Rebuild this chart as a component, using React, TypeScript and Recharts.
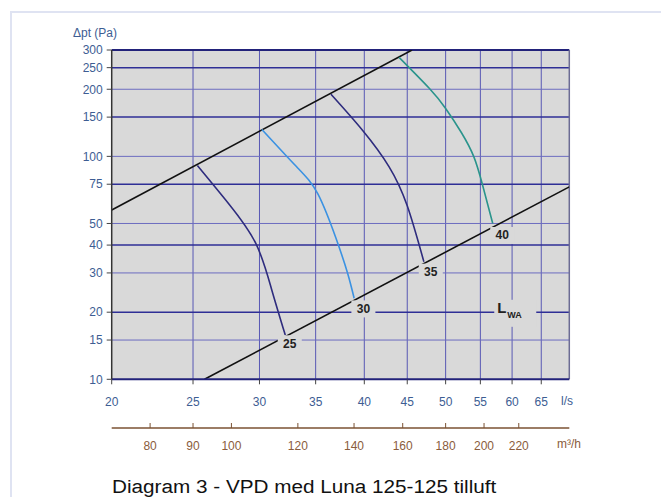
import React from 'react';
import {
  ComposedChart,
  Line,
  XAxis,
  YAxis,
  ReferenceLine,
  ReferenceArea,
  ReferenceDot,
} from 'recharts';

// Axis ticks
const flowTicks = [20, 25, 30, 35, 40, 45, 50, 55, 60, 65];
const volumeTicks = [80, 90, 100, 120, 140, 160, 180, 200, 220];
const pressureTicks = [10, 15, 20, 30, 40, 50, 75, 100, 150, 200, 250, 300];
const flowGridLines = [25, 30, 35, 40, 45, 50, 55, 60, 65];
const majorPressureLines = [20, 40, 75, 150, 250];
const minorPressureLines = [15, 30, 50, 100, 200];

// Secondary flow scale in m³/h (same span as 20–70.2 l/s)
const volumeRange = [72, 252.72];
const volumeRows = volumeRange.map((v) => ({ v }));

// Working range limits (q in l/s, p in Pa)
const upperLimit = [
  { q: 20, p: 57.5 },
  { q: 45.6, p: 300 },
];
const lowerLimit = [
  { q: 25.8, p: 10 },
  { q: 70.2, p: 73 },
];

// Sound power level curves
const curve25 = [
  { q: 25.3, p: 91 },
  { q: 27.6, p: 61 },
  { q: 29.7, p: 40.7 },
  { q: 31.0, p: 25.5 },
  { q: 32.2, p: 15.8 },
];
const curve30 = [
  { q: 30.2, p: 132 },
  { q: 33.2, p: 90 },
  { q: 35.2, p: 68 },
  { q: 37.0, p: 43 },
  { q: 38.2, p: 30 },
  { q: 38.9, p: 23.1 },
];
const curve35 = [
  { q: 36.5, p: 190 },
  { q: 39.8, p: 131 },
  { q: 42.8, p: 90 },
  { q: 45.0, p: 60 },
  { q: 47.1, p: 33.7 },
];
const curve40 = [
  { q: 44.0, p: 278 },
  { q: 47.8, p: 202 },
  { q: 50.0, p: 164 },
  { q: 52.2, p: 128 },
  { q: 54.0, p: 100 },
  { q: 55.3, p: 75 },
  { q: 56.9, p: 50 },
];

const levelLabels = [
  { q: 32.6, p: 14.5, text: '25' },
  { q: 39.9, p: 20.8, text: '30' },
  { q: 48.0, p: 30.4, text: '35' },
  { q: 58.4, p: 44.4, text: '40' },
];
const lwaPosition = { q: 59.7, p: 20.5 };

const FONT = '"Liberation Sans", Arial, Helvetica, sans-serif';
const PLOT_BG = '#d9d9d9';
const BLUE_TEXT = '#3d5d93';
const BROWN = '#7b5233';

const VolumeTick = (props: any) => {
  const { x, y, payload } = props;
  return (
    <g>
      <line x1={x} x2={x} y1={y - 5} y2={y} stroke={BROWN} strokeWidth={1} />
      <text
        x={x}
        y={y + 22}
        textAnchor="middle"
        fill="#8a5c3c"
        fontSize={12}
        fontFamily={FONT}
      >
        {payload.value}
      </text>
    </g>
  );
};

const LevelTag = (text: string) => (props: any) => {
  const { cx, cy } = props;
  return (
    <g>
      <rect x={cx - 12} y={cy - 8} width={24} height={17} fill={PLOT_BG} />
      <text
        x={cx}
        y={cy + 4.5}
        textAnchor="middle"
        fill="#222"
        fontSize={12}
        fontWeight="bold"
        fontFamily={FONT}
      >
        {text}
      </text>
    </g>
  );
};

const LwaTag = (props: any) => {
  const { cx, cy } = props;
  return (
    <g>
      <rect x={cx - 16} y={cy - 10} width={42} height={27} fill={PLOT_BG} />
      <text x={cx - 13} y={cy + 3} fill="#222" fontSize={15} fontWeight="bold" fontFamily={FONT}>
        L
      </text>
      <text x={cx - 3} y={cy + 8} fill="#222" fontSize={9} fontWeight="bold" fontFamily={FONT}>
        WA
      </text>
    </g>
  );
};

export default function App() {
  return (
    <div
      style={{
        position: 'absolute',
        left: 0,
        top: 0,
        width: 661,
        height: 497,
        background: '#fff',
        overflow: 'hidden',
        fontFamily: FONT,
      }}
    >
      <div
        style={{
          position: 'absolute',
          left: 10,
          top: 11,
          width: 660,
          height: 500,
          borderTop: '2px solid #dfe3f2',
          borderLeft: '2px solid #dfe3f2',
        }}
      />
      <div style={{ position: 'absolute', left: 0, top: 0 }}>
        <ComposedChart
          width={661}
          height={497}
          data={volumeRows}
          margin={{ top: 50, right: 91.7, bottom: 39, left: 0 }}
        >
          <XAxis
            xAxisId="ls"
            dataKey="q"
            type="number"
            scale="log"
            domain={[20, 70.2]}
            allowDataOverflow
            ticks={flowTicks}
            interval={0}
            height={48.7}
            tickSize={5}
            tickMargin={13}
            tick={{ fill: BLUE_TEXT, fontSize: 12, fontFamily: FONT }}
            tickLine={{ stroke: '#444', strokeWidth: 1 }}
            axisLine={{ stroke: '#22227a', strokeWidth: 2 }}
          />
          <XAxis
            xAxisId="m3h"
            dataKey="v"
            type="number"
            scale="log"
            domain={volumeRange}
            allowDataOverflow
            ticks={volumeTicks}
            interval={0}
            height={30}
            tickSize={0}
            tickMargin={0}
            tickLine={false}
            tick={<VolumeTick />}
            axisLine={{ stroke: BROWN, strokeWidth: 1.5 }}
          />
          <YAxis
            dataKey="p"
            type="number"
            scale="log"
            domain={[10, 300]}
            allowDataOverflow
            ticks={pressureTicks}
            interval={0}
            width={111.7}
            tickSize={5}
            tickMargin={4}
            tick={{ fill: BLUE_TEXT, fontSize: 12, fontFamily: FONT }}
            tickLine={{ stroke: '#444', strokeWidth: 1 }}
            axisLine={{ stroke: '#333', strokeWidth: 1.5 }}
          />

          <ReferenceArea
            xAxisId="ls"
            x1={20}
            x2={70.2}
            y1={10}
            y2={300}
            fill={PLOT_BG}
            fillOpacity={1}
            stroke="none"
          />
          {flowGridLines.map((v) => (
            <ReferenceLine key={'v' + v} xAxisId="ls" x={v} stroke="#5858b4" strokeWidth={1} />
          ))}
          {minorPressureLines.map((v) => (
            <ReferenceLine key={'m' + v} xAxisId="ls" y={v} stroke="#6c6cc0" strokeWidth={1} />
          ))}
          {majorPressureLines.map((v) => (
            <ReferenceLine key={'M' + v} xAxisId="ls" y={v} stroke="#2e2e96" strokeWidth={1.5} />
          ))}
          <ReferenceLine xAxisId="ls" y={300} stroke="#22227a" strokeWidth={2} />
          <ReferenceLine xAxisId="ls" x={70.2} stroke="#6c6c94" strokeWidth={1.5} />

          <Line xAxisId="ls" data={upperLimit} dataKey="p" type="linear" stroke="#111" strokeWidth={1.6} dot={false} isAnimationActive={false} />
          <Line xAxisId="ls" data={lowerLimit} dataKey="p" type="linear" stroke="#111" strokeWidth={1.6} dot={false} isAnimationActive={false} />
          <Line xAxisId="ls" data={curve25} dataKey="p" type="natural" stroke="#2e2c7e" strokeWidth={1.6} dot={false} isAnimationActive={false} />
          <Line xAxisId="ls" data={curve30} dataKey="p" type="natural" stroke="#3b92e2" strokeWidth={1.6} dot={false} isAnimationActive={false} />
          <Line xAxisId="ls" data={curve35} dataKey="p" type="natural" stroke="#2e2c7e" strokeWidth={1.6} dot={false} isAnimationActive={false} />
          <Line xAxisId="ls" data={curve40} dataKey="p" type="natural" stroke="#2a948c" strokeWidth={1.6} dot={false} isAnimationActive={false} />

          {levelLabels.map((l) => (
            <ReferenceDot
              key={l.text}
              xAxisId="ls"
              x={l.q}
              y={l.p}
              r={1}
              shape={LevelTag(l.text)}
            />
          ))}
          <ReferenceDot xAxisId="ls" x={lwaPosition.q} y={lwaPosition.p} r={1} shape={LwaTag} />
        </ComposedChart>
      </div>

      <div
        style={{
          position: 'absolute',
          left: 73,
          top: 26,
          fontSize: 12,
          lineHeight: '14px',
          color: BLUE_TEXT,
          whiteSpace: 'nowrap',
        }}
      >
        Δpt (Pa)
      </div>
      <div
        style={{
          position: 'absolute',
          left: 561,
          top: 394,
          fontSize: 12,
          lineHeight: '14px',
          color: BLUE_TEXT,
        }}
      >
        l/s
      </div>
      <div
        style={{
          position: 'absolute',
          left: 557,
          top: 437,
          fontSize: 12,
          lineHeight: '14px',
          color: '#8a5c3c',
          whiteSpace: 'nowrap',
        }}
      >
        m³/h
      </div>
      <div
        style={{
          position: 'absolute',
          left: 112,
          top: 477.5,
          fontSize: 18,
          lineHeight: '18px',
          color: '#111',
          whiteSpace: 'nowrap',
          transform: 'scaleX(1.15)',
          transformOrigin: 'left top',
        }}
      >
        Diagram 3 - VPD med Luna 125-125 tilluft
      </div>
    </div>
  );
}
